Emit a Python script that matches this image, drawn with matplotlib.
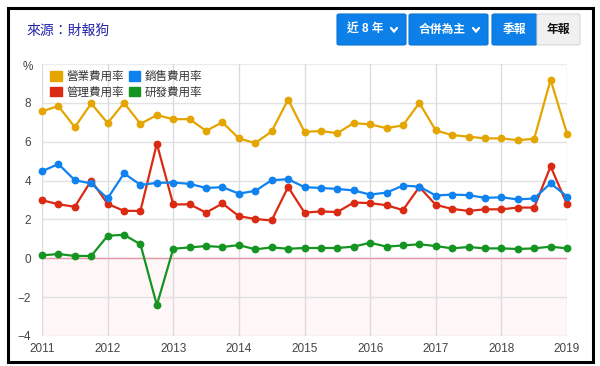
import numpy as np
import matplotlib
matplotlib.use('Agg')
import matplotlib.pyplot as plt
from matplotlib.patches import Patch, Rectangle, FancyBboxPatch
from matplotlib.lines import Line2D

plt.rcParams['font.family'] = ['Liberation Sans', 'Noto Sans CJK TC', 'DejaVu Sans']

# quarterly points 2011Q1 .. 2019Q1
quarters = np.arange(2011, 2019.01, 0.25)

opex = [7.57, 7.83, 6.75, 7.97, 6.96, 8.0, 6.92, 7.37, 7.16, 7.16, 6.56, 7.0,
        6.17, 5.93, 6.53, 8.17, 6.51, 6.55, 6.44, 6.96, 6.89, 6.70, 6.84, 8.0,
        6.58, 6.34, 6.26, 6.17, 6.17, 6.08, 6.15, 9.19, 6.42]
selling = [4.48, 4.85, 4.02, 3.85, 3.08, 4.37, 3.78, 3.88, 3.90, 3.83, 3.62, 3.66,
           3.33, 3.47, 4.02, 4.07, 3.66, 3.62, 3.57, 3.49, 3.28, 3.38, 3.74, 3.69,
           3.23, 3.28, 3.25, 3.11, 3.14, 3.03, 3.08, 3.86, 3.18]
admin = [2.99, 2.78, 2.65, 4.0, 2.80, 2.44, 2.44, 5.9, 2.77, 2.78, 2.35, 2.82,
         2.17, 2.02, 1.95, 3.67, 2.35, 2.41, 2.38, 2.87, 2.84, 2.73, 2.48, 3.67,
         2.75, 2.54, 2.44, 2.52, 2.52, 2.61, 2.61, 4.73, 2.78]
rnd = [0.15, 0.22, 0.12, 0.12, 1.16, 1.21, 0.72, -2.41, 0.49, 0.56, 0.63, 0.58,
       0.68, 0.46, 0.56, 0.49, 0.53, 0.53, 0.53, 0.60, 0.80, 0.60, 0.66, 0.72,
       0.63, 0.51, 0.58, 0.51, 0.51, 0.48, 0.51, 0.60, 0.51]

names = ['營業費用率', '銷售費用率', '管理費用率', '研發費用率']
colors = ['#e5a500', '#0f82f0', '#da2a12', '#149420']
years = list(range(2011, 2020))

W, H = 600, 366
fig = plt.figure(figsize=(6, 3.66), dpi=100)

def fx(px):
    return px / W

def fy(py):
    return 1 - py / H

ax = fig.add_axes([fx(42), fy(336), fx(567) - fx(42), fy(64) - fy(336)])
ax.set_xlim(2011, 2019)
ax.set_ylim(-4, 10)

ax.axhspan(-4, 0, color='#fff6f8', zorder=0)
for y in range(-4, 11, 2):
    ax.axhline(y, color='#e2e2e2' if y != 10 else '#ececec', lw=1, zorder=1)
for x in years:
    ax.axvline(x, color='#dcdcdc', lw=1, zorder=1)
ax.axhline(0, color='#e89aa6', lw=1, zorder=2)

series = [opex, selling, admin, rnd]
# draw order: green at back, orange at front
for vals, c in list(zip(series, colors))[::-1]:
    ax.plot(quarters, vals, color=c, lw=1.6, marker='o', markersize=4.6,
            clip_on=False, zorder=3)

for s in ax.spines.values():
    s.set_visible(False)
ax.tick_params(length=0, labelsize=8.5, labelcolor='#444444')
ax.set_xticks(years)
ax.set_xticklabels([str(y) for y in years])
ax.set_yticks([-4, -2, 0, 2, 4, 6, 8])
ax.tick_params(axis='x', pad=5)
ax.tick_params(axis='y', pad=8)
fig.text(fx(28), fy(67), '%', fontsize=8.5, color='#444444', ha='center', va='center')

# legend rows: (營業, 銷售) / (管理, 研發); matplotlib fills columns first
order = [0, 2, 1, 3]
handles = [Patch(facecolor=colors[i], edgecolor=colors[i]) for i in order]
labels = [names[i] for i in order]
leg = ax.legend(handles, labels, ncol=2, loc='upper left',
                bbox_to_anchor=((50 - 42) / 525, (336 - 71) / 272),
                frameon=False, fontsize=8.3, handlelength=1.0, handleheight=0.9,
                handletextpad=0.4, columnspacing=0.45, labelspacing=0.3,
                borderaxespad=0, borderpad=0)
for t in leg.get_texts():
    t.set_color('#333333')

# header
fig.text(fx(26), fy(31), '來源：財報狗', fontsize=10, color='#2323a8', ha='left', va='center')

btn_blue = '#0c80e8'
buttons = [(337, 406, '近 8 年', True), (409, 488, '合併為主', True),
           (492, 537, '季報', False), (537, 580, '年報', False)]
for i, (x0, x1, label, chev) in enumerate(buttons):
    fc = '#f0f0f0' if i == 3 else btn_blue
    tc = '#111111' if i == 3 else 'white'
    fig.patches.append(FancyBboxPatch((fx(x0), fy(45)), fx(x1) - fx(x0), fy(14) - fy(45),
                                      boxstyle='round,pad=0,rounding_size=0.004',
                                      transform=fig.transFigure, facecolor=fc,
                                      edgecolor='#d8d8d8' if i == 3 else '#0a74d6', lw=0.8))
    cx = (x0 + x1) / 2 - (6 if chev else 0)
    fig.text(fx(cx), fy(30), label, fontsize=8.5, color=tc, fontweight='bold',
             ha='center', va='center')
    if chev:
        tx = x1 - 12
        fig.add_artist(Line2D([fx(tx - 3), fx(tx), fx(tx + 3)], [fy(28), fy(31.5), fy(28)],
                              transform=fig.transFigure, color='white', lw=1.6,
                              solid_capstyle='round', solid_joinstyle='miter'))

# outer frame
fig.patches.append(Rectangle((fx(7.5), fy(361.5)), fx(592.5) - fx(7.5), fy(8) - fy(361.5),
                             transform=fig.transFigure, fill=False, edgecolor='black', lw=2.2))

fig.savefig('out.png', dpi=100)
